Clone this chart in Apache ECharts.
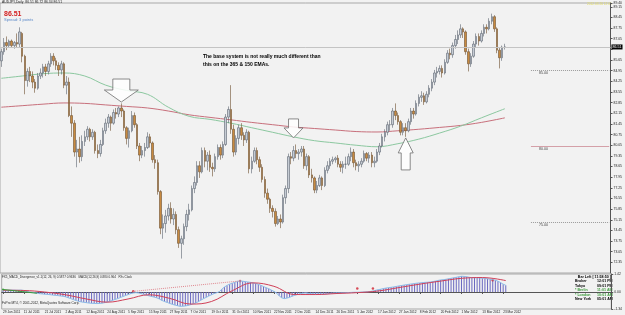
<!DOCTYPE html>
<html>
<head>
<meta charset="utf-8">
<script src="https://cdn.jsdelivr.net/npm/echarts@6/dist/echarts.min.js"></script>
<style>
  html, body { margin: 0; padding: 0; background: #f2f2f2; }
  #chart { width: 625px; height: 315px; }
</style>
</head>
<body>
<div id="chart"></div>
<script>
// bar slots on the time axis (weekday bars from 29 Jun 2011, plus chart shift space)
var slotCount = 234;
var tickLabels = ['29 Jun 2011', '11 Jul 2011', '21 Jul 2011', '2 Aug 2011', '12 Aug 2011', '24 Aug 2011',
  '5 Sep 2011', '15 Sep 2011', '27 Sep 2011', '7 Oct 2011', '19 Oct 2011', '31 Oct 2011', '10 Nov 2011',
  '22 Nov 2011', '2 Dec 2011', '14 Dec 2011', '26 Dec 2011', '5 Jan 2012', '17 Jan 2012', '27 Jan 2012',
  '8 Feb 2012', '20 Feb 2012', '1 Mar 2012', '13 Mar 2012', '23 Mar 2012'];

// daily candles: [open, close, low, high]
var candles = [
  [85.6, 86.2, 85.2, 86.4], [86.2, 86.8, 86.0, 87.1], [86.8, 86.6, 86.3, 87.2], [86.6, 86.9, 86.5, 87.0],
  [86.9, 86.6, 86.5, 87.0], [86.6, 86.8, 86.4, 86.9], [86.8, 86.7, 86.5, 87.4], [86.7, 87.5, 86.5, 87.8],
  [87.4, 85.9, 85.5, 87.5], [85.9, 84.3, 83.4, 86.0], [84.3, 84.9, 83.9, 85.1], [84.9, 84.6, 84.2, 85.2],
  [84.6, 84.2, 83.8, 84.9], [84.2, 83.8, 83.5, 84.4], [83.8, 84.6, 83.7, 84.8], [84.6, 84.8, 84.4, 85.1],
  [84.8, 85.2, 84.5, 85.4], [85.2, 84.9, 84.6, 85.4], [84.9, 85.4, 84.7, 85.6], [85.4, 85.9, 85.2, 86.1],
  [85.9, 85.6, 85.3, 86.1], [85.6, 85.3, 85.0, 85.8], [85.3, 85.0, 84.6, 85.5], [85.0, 85.4, 84.7, 85.6],
  [85.4, 84.0, 83.8, 85.5], [84.0, 84.2, 83.4, 84.6], [84.2, 82.0, 81.9, 84.5], [82.0, 81.5, 80.6, 82.6],
  [81.5, 79.6, 79.3, 81.7], [79.6, 79.8, 78.6, 80.4], [79.8, 79.3, 78.9, 80.6], [79.3, 80.3, 79.0, 80.7],
  [80.3, 80.6, 80.0, 81.0], [80.6, 81.1, 80.4, 81.3], [81.1, 80.6, 80.3, 81.2], [80.6, 80.9, 80.4, 81.1],
  [80.9, 79.7, 79.5, 81.0], [79.7, 79.5, 79.2, 80.1], [79.5, 80.1, 79.3, 80.4], [80.1, 81.0, 80.0, 81.2],
  [81.0, 81.5, 80.8, 81.8], [81.5, 81.9, 81.2, 82.1], [81.9, 81.5, 81.0, 82.0], [81.5, 82.2, 81.4, 82.4],
  [82.2, 82.1, 81.8, 82.5], [82.1, 82.5, 81.9, 82.6], [82.5, 82.3, 81.9, 82.8], [82.3, 81.2, 81.0, 82.4],
  [81.2, 80.5, 80.1, 81.3], [80.5, 81.0, 79.9, 81.2], [81.0, 82.0, 80.9, 82.3], [82.0, 81.4, 81.2, 82.2],
  [81.4, 80.0, 79.8, 81.5], [80.0, 79.4, 79.0, 80.2], [79.4, 79.7, 79.2, 80.0], [79.7, 79.9, 79.3, 80.2],
  [79.9, 80.6, 79.8, 80.9], [80.6, 80.2, 79.9, 80.8], [80.2, 79.1, 78.9, 80.3], [79.1, 78.9, 78.5, 79.4],
  [78.9, 77.0, 76.8, 79.1], [77.0, 74.6, 74.2, 77.1], [74.6, 74.9, 73.9, 75.5], [74.9, 75.4, 74.3, 75.8],
  [75.4, 75.9, 75.1, 76.2], [75.9, 75.2, 74.9, 76.3], [75.2, 75.5, 74.8, 75.9], [75.5, 74.5, 74.2, 75.7],
  [74.5, 73.6, 73.3, 74.7], [73.6, 73.9, 72.6, 74.1], [73.9, 74.7, 73.5, 74.9], [74.7, 75.5, 74.4, 75.8],
  [75.5, 75.8, 75.1, 76.2], [75.8, 77.2, 75.7, 77.4], [77.2, 77.6, 76.9, 78.0], [77.6, 78.7, 77.4, 79.0],
  [78.7, 78.3, 77.9, 79.0], [78.3, 79.7, 78.2, 79.9], [79.7, 79.0, 78.6, 79.9], [79.0, 79.4, 78.4, 79.6],
  [79.4, 78.6, 78.3, 79.7], [78.6, 78.5, 78.0, 78.9], [78.5, 79.3, 78.3, 79.5], [79.3, 79.9, 79.1, 80.1],
  [79.9, 79.4, 79.1, 80.1], [79.4, 80.1, 79.2, 80.3], [80.1, 81.9, 80.0, 82.1], [81.9, 82.4, 81.5, 82.6],
  [82.4, 81.1, 80.8, 84.0], [81.1, 79.6, 79.3, 81.4], [79.6, 80.5, 79.4, 80.7], [80.5, 81.2, 80.1, 81.4],
  [81.2, 80.7, 80.4, 81.5], [80.7, 80.4, 80.0, 80.9], [80.4, 80.9, 80.2, 81.1], [80.9, 78.5, 78.2, 81.0],
  [78.5, 79.0, 78.2, 79.3], [79.0, 79.7, 78.9, 79.9], [79.7, 79.1, 78.8, 79.9], [79.1, 78.6, 78.3, 79.3],
  [78.6, 77.8, 77.6, 78.8], [77.8, 76.9, 76.6, 78.0], [76.9, 76.5, 76.2, 77.2], [76.5, 75.9, 75.6, 76.6],
  [75.9, 75.7, 75.3, 76.1], [75.7, 74.9, 74.7, 75.9], [74.9, 75.2, 74.8, 75.4], [75.2, 75.0, 74.6, 75.5],
  [75.0, 76.6, 74.9, 76.8], [76.6, 77.2, 76.2, 77.4], [77.2, 79.3, 76.9, 79.5], [79.3, 79.2, 78.8, 79.6],
  [79.2, 79.7, 79.0, 80.0], [79.7, 79.5, 79.2, 80.1], [79.5, 79.6, 79.1, 79.8], [79.6, 79.8, 79.3, 80.0],
  [79.8, 78.7, 78.5, 80.0], [78.7, 79.3, 78.4, 79.5], [79.3, 78.1, 77.9, 79.4], [78.1, 77.9, 77.6, 78.5],
  [77.9, 77.1, 76.9, 78.0], [77.1, 77.4, 76.9, 77.7], [77.4, 77.9, 77.3, 78.1], [77.9, 77.4, 77.1, 78.0],
  [77.4, 78.4, 77.3, 78.6], [78.4, 78.7, 78.2, 79.0], [78.7, 79.0, 78.5, 79.2], [79.0, 79.1, 78.8, 79.3],
  [79.1, 79.2, 78.9, 79.3], [79.2, 78.8, 78.6, 79.4], [78.8, 78.6, 78.3, 79.0], [78.6, 78.8, 78.2, 79.0],
  [78.8, 78.8, 78.5, 79.3], [78.8, 79.3, 78.7, 79.5], [79.3, 79.6, 79.0, 79.9], [79.6, 78.9, 78.6, 79.8],
  [78.9, 78.7, 78.4, 79.1], [78.7, 78.8, 78.3, 79.0], [78.8, 79.0, 78.6, 79.2], [79.0, 79.5, 78.9, 79.7],
  [79.5, 79.2, 79.0, 79.6], [79.2, 79.4, 78.9, 79.6], [79.4, 78.9, 78.6, 79.6], [78.9, 79.0, 78.6, 79.3],
  [79.0, 79.6, 78.9, 79.8], [79.6, 80.0, 79.4, 80.2], [80.0, 80.6, 79.9, 80.8], [80.6, 80.9, 80.3, 81.1],
  [80.9, 81.4, 80.7, 81.6], [81.4, 81.4, 81.0, 81.7], [81.4, 82.3, 81.2, 82.5], [82.3, 82.0, 81.7, 82.8],
  [82.0, 81.6, 81.4, 82.2], [81.6, 80.9, 80.7, 81.7], [80.9, 81.2, 80.7, 81.5], [81.2, 81.0, 80.6, 81.5],
  [81.0, 81.6, 80.9, 81.8], [81.6, 82.3, 81.4, 82.5], [82.3, 82.1, 81.8, 82.5], [82.1, 82.8, 82.0, 83.0],
  [82.8, 83.2, 82.6, 83.4], [83.2, 83.3, 82.9, 83.6], [83.3, 82.9, 82.7, 83.5], [82.9, 83.4, 82.8, 83.6],
  [83.4, 83.8, 83.2, 84.0], [83.8, 84.2, 83.6, 84.4], [84.2, 84.8, 84.0, 85.0], [84.8, 84.9, 84.5, 85.2],
  [84.9, 85.1, 84.7, 85.3], [85.1, 84.8, 84.5, 85.3], [84.8, 85.5, 84.7, 85.7], [85.5, 86.1, 85.4, 86.3],
  [86.1, 86.0, 85.7, 86.4], [86.0, 86.6, 85.8, 86.8], [86.6, 87.0, 86.4, 87.3], [87.0, 87.3, 86.7, 87.6],
  [87.3, 87.7, 87.1, 88.0], [87.7, 87.5, 87.1, 87.8], [87.5, 86.2, 86.0, 87.6], [86.2, 85.4, 84.9, 86.4],
  [85.4, 85.9, 85.2, 86.1], [85.9, 86.7, 85.8, 86.9], [86.7, 87.2, 86.5, 87.4], [87.2, 86.9, 86.6, 87.4],
  [86.9, 87.4, 86.8, 87.6], [87.4, 87.8, 87.2, 88.0], [87.8, 87.7, 87.4, 88.0], [87.7, 88.2, 87.6, 88.4],
  [88.2, 88.5, 88.0, 88.7], [88.5, 87.7, 87.5, 88.6], [87.7, 86.3, 86.1, 87.8], [86.3, 85.8, 85.1, 86.5],
  [85.8, 86.5, 85.6, 86.6], [86.51, 86.51, 86.34, 86.72]
];

// moving averages: [bar, value]
var emaSlow = [[0, 82.55], [8, 82.65], [16, 82.75], [24, 82.83], [32, 82.8], [40, 82.7], [48, 82.6],
  [56, 82.5], [64, 82.3], [72, 82.05], [80, 81.88], [88, 81.72], [96, 81.55], [104, 81.4], [112, 81.25],
  [120, 81.15], [128, 81.05], [136, 80.95], [144, 80.92], [152, 81.0], [160, 81.1], [168, 81.22],
  [176, 81.35], [184, 81.55], [193, 81.85]];
var emaFast = [[0, 84.45], [8, 84.6], [16, 84.75], [24, 84.8], [32, 84.6], [40, 84.0], [48, 83.65],
  [56, 83.4], [64, 82.55], [72, 81.95], [80, 81.75], [88, 81.5], [96, 81.2], [104, 80.9], [112, 80.6],
  [120, 80.35], [128, 80.2], [136, 80.05], [144, 79.95], [152, 80.15], [160, 80.45], [168, 80.85],
  [176, 81.3], [184, 81.85], [193, 82.45]];

var lastPrice = 86.51;
var levels = [85, 80, 75];

// annotation arrows: [bar, tip price, direction]
var arrows = [[46, 82.89, 'down'], [112, 80.53, 'down'], [155, 80.53, 'up']];

// MACD histogram per bar
var macdHist = [
  0.12, 0.13, 0.14, 0.15, 0.15, 0.14, 0.14, 0.15, 0.12, 0.05, 0.01, -0.02,
  -0.05, -0.09, -0.13, -0.15, -0.17, -0.19, -0.21, -0.24, -0.26, -0.28, -0.31, -0.33,
  -0.38, -0.45, -0.52, -0.60, -0.67, -0.73, -0.78, -0.81, -0.84, -0.87, -0.89, -0.90,
  -0.91, -0.90, -0.88, -0.84, -0.79, -0.73, -0.66, -0.59, -0.52, -0.44, -0.36, -0.28,
  -0.21, -0.13, -0.08, -0.05, -0.08, -0.13, -0.18, -0.24, -0.30, -0.35, -0.40, -0.46,
  -0.55, -0.66, -0.75, -0.82, -0.90, -0.97, -1.03, -1.08, -1.13, -1.12, -1.10, -1.06,
  -1.00, -0.93, -0.86, -0.76, -0.64, -0.52, -0.42, -0.32, -0.22, -0.13, -0.06, 0.02,
  0.22, 0.39, 0.52, 0.62, 0.69, 0.76, 0.83, 0.87, 0.85, 0.82, 0.79, 0.76,
  0.72, 0.67, 0.61, 0.53, 0.43, 0.34, 0.26, 0.15, 0.05, -0.08, -0.30, -0.46,
  -0.52, -0.48, -0.42, -0.33, -0.26, -0.20, -0.14, -0.10, -0.08, -0.11, -0.13, -0.15,
  -0.16, -0.16, -0.16, -0.16, -0.15, -0.13, -0.11, -0.09, -0.08, -0.08, -0.07, -0.06,
  -0.05, -0.04, -0.03, -0.02, -0.02, -0.01, 0.00, 0.01, 0.02, 0.04, 0.08, 0.13,
  0.18, 0.22, 0.27, 0.31, 0.34, 0.37, 0.40, 0.44, 0.48, 0.51, 0.55, 0.58,
  0.61, 0.64, 0.67, 0.70, 0.72, 0.74, 0.76, 0.77, 0.79, 0.82, 0.86, 0.91,
  0.95, 0.97, 1.00, 1.04, 1.08, 1.12, 1.16, 1.20, 1.24, 1.23, 1.20, 1.16,
  1.13, 1.13, 1.13, 1.11, 1.09, 1.07, 1.04, 1.01, 0.97, 0.93, 0.85, 0.74,
  0.62, 0.53
];
// signal line: [bar, value]
var macdSignal = [[0, 0.14], [8, 0.12], [16, 0.0], [24, -0.22], [32, -0.55], [40, -0.8], [48, -0.55],
  [56, -0.22], [64, -0.5], [72, -0.95], [80, -0.75], [88, 0.1], [96, 0.72], [104, 0.45], [112, -0.2],
  [120, -0.2], [128, -0.12], [136, -0.05], [144, 0.08], [152, 0.35], [160, 0.62], [168, 0.86],
  [176, 1.08], [184, 1.14], [193, 0.9]];
var divMarks = [[50, 0.05], [91, 0.87], [136, 0.27], [142, 0.27], [188, 0.92]];
var divLine = [[50, 0.05], [91, 0.87]];
var greenDiv = [[0, 0.2], [13, -0.1]];

var clockRows = [
  ['Bar Left [ 11:58:50 ]', '', '#000'],
  ['Broker', '12:01 PM', '#000'],
  ['Tokyo', '09:01 PM', '#000'],
  ['* Berlin', '11:01 AM', '#3a9a3a'],
  ['* London', '10:01 AM', '#3a9a3a'],
  ['New York', '05:01 AM', '#000']
];

var slots = [];
for (var i = 0; i < slotCount; i++) slots.push(i);

var chart = echarts.init(document.getElementById('chart'), null, { renderer: 'canvas' });

var FONT = 'Liberation Sans';
var showTick = function (index) { return index % 8 === 0 && index / 8 < tickLabels.length; };

// arrow sizes (px) by arrow index
var arrowSize = [
  { head: 17, headH: 12, shaft: 8.5, shaftH: 11 },
  { head: 9.5, headH: 10, shaft: 5, shaftH: 9 },
  { head: 7.5, headH: 15, shaft: 4.5, shaftH: 17 }
];

function renderArrow(params, api) {
  var p = api.coord([api.value(0), api.value(1)]);
  var s = arrowSize[params.dataIndex];
  var d = arrows[params.dataIndex][2] === 'down' ? -1 : 1;
  var x = p[0], y = p[1];
  var pts = [
    [x, y],
    [x - s.head, y + d * s.headH],
    [x - s.shaft, y + d * s.headH],
    [x - s.shaft, y + d * (s.headH + s.shaftH)],
    [x + s.shaft, y + d * (s.headH + s.shaftH)],
    [x + s.shaft, y + d * s.headH],
    [x + s.head, y + d * s.headH]
  ];
  return {
    type: 'polygon',
    shape: { points: pts },
    style: { fill: 'rgba(255,255,255,0.85)', stroke: '#6e6e6e', lineWidth: 0.8 }
  };
}

var levelLines = levels.map(function (lv) {
  var dotted = lv !== 80;
  return [
    { coord: [203, lv], lineStyle: { color: dotted ? '#9a9a9a' : '#d4a0a8', type: dotted ? 'dotted' : 'solid', width: 1 },
      label: { show: true, position: 'insideStartBottom', formatter: lv.toFixed(2), fontSize: 3.6, color: '#444',
               fontFamily: FONT, distance: [8, 1] } },
    { coord: [233, lv] }
  ];
});

var option = {
  animation: false,
  backgroundColor: '#f2f2f2',
  grid: [
    { left: 0, right: 13, top: 3, height: 270, show: true, borderColor: '#a8a8a8', borderWidth: 1 },
    { left: 0, right: 13, top: 274, height: 35, show: true, borderColor: '#a8a8a8', borderWidth: 1 }
  ],
  xAxis: [
    { type: 'category', gridIndex: 0, data: slots, boundaryGap: true,
      axisLine: { show: false }, axisTick: { show: false }, axisLabel: { show: false } },
    { type: 'category', gridIndex: 1, data: slots, boundaryGap: true,
      axisLine: { show: true, lineStyle: { color: '#555', width: 1 } },
      axisTick: { show: true, interval: showTick, alignWithLabel: true, length: 2, lineStyle: { color: '#555' } },
      axisLabel: { interval: showTick, align: 'left', margin: 2, fontSize: 3.2, color: '#222', fontFamily: FONT,
        formatter: function (v, idx) { return tickLabels[idx / 8] || ''; } } }
  ],
  yAxis: [
    { type: 'value', gridIndex: 0, position: 'right', min: 71.65, max: 89.4, interval: 0.7,
      axisLine: { show: true, lineStyle: { color: '#555' } },
      axisTick: { show: true, length: 2, lineStyle: { color: '#555' } },
      splitLine: { show: false },
      axisLabel: { showMinLabel: false, margin: 3, fontSize: 3.4, color: '#222', fontFamily: FONT,
        formatter: function (v) { return Math.abs(v - 86.35) < 0.01 ? '' : v.toFixed(2); } } },
    { type: 'value', gridIndex: 1, position: 'right', min: -1.34, max: 1.42,
      axisLine: { show: true, lineStyle: { color: '#555' } },
      axisTick: { show: true, length: 2, customValues: [1.42, 0, -1.34], lineStyle: { color: '#555' } },
      splitLine: { show: false },
      axisLabel: { customValues: [1.42, 0, -1.34], margin: 3, fontSize: 3.4, color: '#222', fontFamily: FONT,
        formatter: function (v) { return v.toFixed(2); } } }
  ],
  series: [
    { type: 'line', xAxisIndex: 0, yAxisIndex: 0, data: emaSlow, smooth: 0.4, symbol: 'none',
      lineStyle: { color: '#c8707c', width: 1 }, z: 1 },
    { type: 'line', xAxisIndex: 0, yAxisIndex: 0, data: emaFast, smooth: 0.4, symbol: 'none',
      lineStyle: { color: '#8cc8a0', width: 1 }, z: 1 },
    { type: 'candlestick', xAxisIndex: 0, yAxisIndex: 0, data: candles, barWidth: 2, z: 3,
      itemStyle: { color: '#c6ccd4', color0: '#c88a40', borderColor: '#5c6470', borderColor0: '#6e5030', borderWidth: 0.6 },
      markLine: { symbol: 'none', silent: true, animation: false, data: [
        { yAxis: lastPrice, lineStyle: { color: '#c4c4c4', type: 'solid', width: 1 },
          label: { show: true, position: 'end', formatter: lastPrice.toFixed(2), backgroundColor: '#000', color: '#fff',
                   fontSize: 3.6, padding: [1, 1, 0, 1], distance: 1, fontFamily: FONT } }
      ].concat(levelLines) } },
    { type: 'custom', xAxisIndex: 0, yAxisIndex: 0, data: arrows.map(function (a) { return [a[0], a[1]]; }),
      renderItem: renderArrow, z: 5, silent: true },
    { type: 'bar', xAxisIndex: 1, yAxisIndex: 1, data: macdHist, barWidth: 1, itemStyle: { color: '#6a68c0' } },
    { type: 'line', xAxisIndex: 1, yAxisIndex: 1, data: macdHist, symbol: 'none',
      lineStyle: { color: '#8cbce8', width: 1 } },
    { type: 'line', xAxisIndex: 1, yAxisIndex: 1, data: macdSignal, smooth: 0.4, symbol: 'none',
      lineStyle: { color: '#d04058', width: 1 } },
    { type: 'line', xAxisIndex: 1, yAxisIndex: 1, data: divLine, symbol: 'none',
      lineStyle: { color: '#e08890', width: 1, type: 'dotted' } },
    { type: 'line', xAxisIndex: 1, yAxisIndex: 1, data: greenDiv, symbol: 'circle', symbolSize: 2,
      showSymbol: true, itemStyle: { color: '#3a9a3a' }, lineStyle: { color: '#3a9a3a', width: 1 } },
    { type: 'scatter', xAxisIndex: 1, yAxisIndex: 1, data: divMarks, symbol: 'circle', symbolSize: 2.5,
      itemStyle: { color: '#d02030' } }
  ],
  graphic: [
    { type: 'text', left: 2, top: 1, style: { text: 'AUDJPY,Daily  86.51 86.72 86.34 86.51', fontSize: 3.4, fill: '#222', fontFamily: FONT } },
    { type: 'text', left: 4, top: 11, style: { text: '86.51', fontSize: 7, fontWeight: 'bold', fill: '#d42020', fontFamily: FONT } },
    { type: 'text', left: 4, top: 18, style: { text: 'Spread: 3 points', fontSize: 4, fill: '#5a88c8', fontFamily: FONT } },
    { type: 'text', left: 587, top: 3, style: { text: '2012.03.26 12:01', fontSize: 3.2, fill: '#e2dc60', fontFamily: FONT } },
    { type: 'text', left: 203, top: 53, style: { text: 'The base system is not really much different than\nthis on the 365 & 150 EMAs.',
      fontSize: 5, lineHeight: 8, fontWeight: 'bold', fill: '#000', fontFamily: FONT } },
    { type: 'text', left: 2, top: 275.5, style: { text: 'FX5_MACD_Divergence_v1.1(12, 26, 9) 0.5877 0.9636   MACD(12,26,9) 0.880 0.964   FXs Clock',
      fontSize: 3, fill: '#222', fontFamily: FONT } },
    { type: 'text', left: 2, top: 301.5, style: { text: 'FxPro MT4, \u00a9 2001-2012, MetaQuotes Software Corp.',
      fontSize: 3.2, fill: '#222', fontFamily: FONT } }
  ].concat(clockRows.map(function (r, k) {
    var y = 275 + k * 4.4;
    if (!r[1]) {
      return { type: 'text', right: 14, top: y, style: { text: r[0], fontSize: 3.6, fontWeight: 'bold', fill: r[2], fontFamily: FONT, textAlign: 'right' } };
    }
    return { type: 'group', children: [
      { type: 'text', left: 575, top: y, style: { text: r[0], fontSize: 3.6, fontWeight: 'bold', fill: r[2], fontFamily: FONT } },
      { type: 'text', left: 597, top: y, style: { text: r[1], fontSize: 3.6, fontWeight: 'bold', fill: r[2], fontFamily: FONT } }
    ] };
  }))
};

chart.setOption(option);
</script>
</body>
</html>
